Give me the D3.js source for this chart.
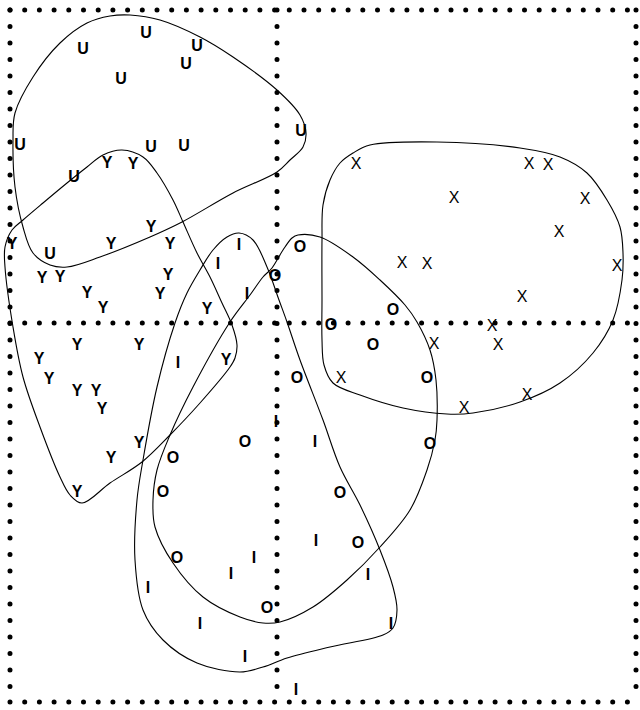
<!DOCTYPE html>
<html>
<head>
<meta charset="utf-8">
<script src="https://cdn.jsdelivr.net/npm/d3@7"></script>
<style>
  body { margin: 0; background: #fff; }
  .lbl { font-family: "Liberation Sans", Arial, sans-serif; font-size: 16px; fill: #000; }
  .hull { fill: none; stroke: #000; stroke-width: 1.1; }
  .dots { stroke: #000; stroke-linecap: round; stroke-width: 5; }
</style>
</head>
<body>
<script>
// point coordinates per group [x, y]
var ptsU = [[-13.1,29.1],[-19.4,27.5],[-8.0,27.8],[-9.1,26.0],[-15.6,24.5],[-25.7,17.9],
  [-12.6,17.7],[-9.3,17.8],[2.4,19.3],[-20.3,14.7],[-22.7,7.0]];
var ptsY = [[-17.0,16.1],[-14.4,16.0],[-12.6,9.7],[-26.5,8.0],[-16.6,8.0],[-10.7,8.0],
  [-23.5,4.6],[-21.7,4.7],[-10.9,4.9],[-19.0,3.1],[-11.7,3.0],[-17.4,1.6],[-7.0,1.5],
  [-20.0,-2.1],[-13.8,-2.1],[-23.8,-3.5],[-22.8,-5.5],[-20.0,-6.7],[-18.1,-6.7],
  [-17.5,-8.5],[-13.8,-11.9],[-16.6,-13.4],[-20.0,-16.8],[-5.1,-3.6]];
var ptsI = [[-3.8,7.9],[-5.9,6.0],[-3.0,3.0],[-9.9,-3.9],[-0.1,-9.8],[3.8,-11.8],
  [3.9,-21.7],[-2.3,-23.4],[-4.6,-25.0],[-12.9,-26.4],[-7.7,-30.0],[-3.2,-33.3],
  [1.9,-36.6],[9.1,-25.1],[11.4,-30.0]];
var ptsO = [[2.3,7.7],[-0.2,4.8],[11.6,1.4],[5.4,-0.1],[9.6,-2.1],[15.0,-5.4],
  [15.3,-12.0],[6.3,-16.9],[8.1,-21.9],[2.0,-5.4],[-3.2,-11.8],[-10.4,-13.4],
  [-11.4,-16.8],[-10.0,-23.4],[-1.0,-28.4]];
var ptsX = [[7.9,16.0],[25.2,16.0],[27.1,15.9],[17.7,12.6],[30.8,12.5],[28.2,9.2],
  [12.5,6.1],[15.0,6.0],[34.0,5.8],[24.5,2.7],[21.5,-0.2],[22.1,-2.1],[15.7,-2.0],
  [6.4,-5.4],[25.0,-7.1],[18.7,-8.4]];

// group outlines
var hullU = [[-14.7,30.8],[-11.7,30.3],[-7.7,28.6],[-4.4,26.6],[0,23.3],[2.3,20.8],
  [2.9,19.0],[2.6,17.6],[1.3,16.3],[0,15.1],[-4.4,13.0],[-9.5,10.1],[-12.7,8.6],
  [-17.7,6.6],[-21.0,5.6],[-22.7,5.8],[-24.4,7.0],[-25.4,9.6],[-26.2,13.6],
  [-26.4,18.3],[-26.2,21.0],[-24.4,24.6],[-21.7,28.0],[-19.0,30.0],[-16.7,30.7]];
var hullY = [[-15.5,17.3],[-13.4,16.6],[-12.0,15.0],[-10.4,12.3],[-9.4,10.1],[-8.0,7.0],
  [-6.7,4.6],[-5.5,2.0],[-4.5,-0.2],[-4.0,-2.2],[-4.2,-3.5],[-4.7,-4.4],[-7.7,-8.0],
  [-10.7,-11.2],[-13.5,-13.9],[-16.7,-16.0],[-19.5,-18.0],[-20.7,-17.2],[-21.7,-15.4],
  [-23.7,-10.4],[-25.4,-5.4],[-26.4,-0.4],[-27.2,5.6],[-27.2,7.6],[-26.5,9.3],
  [-25.4,10.3],[-23.4,12.0],[-21.0,14.0],[-19.0,15.6],[-17.4,16.8]];
var hullI = [[-3.8,9.0],[-2.4,8.3],[-1.0,5.6],[0.2,2.3],[1.0,0.1],[2.3,-3.7],[4.6,-9.7],
  [6.3,-14.4],[8.3,-18.2],[10.3,-22.7],[11.6,-26.4],[12.0,-28.7],[11.6,-30.5],
  [10.6,-31.2],[5.3,-32.4],[1.0,-33.5],[-1.4,-34.4],[-3.7,-34.9],[-8.0,-34.0],
  [-11.4,-31.7],[-13.4,-28.7],[-14.2,-23.7],[-14.0,-17.7],[-13.4,-13.7],[-12.0,-6.4],
  [-10.2,0.0],[-9.0,3.0],[-7.7,5.3],[-6.4,7.3],[-5.0,8.6]];
var hullO = [[2.1,8.8],[4.3,8.6],[7.6,6.6],[10.3,4.3],[12.8,1.8],[14.0,0.1],[15.3,-2.7],
  [15.9,-5.7],[16.0,-9.7],[15.8,-11.7],[15.0,-14.7],[13.3,-18.7],[10.3,-22.4],
  [7.0,-25.7],[3.6,-28.4],[0.3,-29.9],[-1.4,-30.0],[-3.7,-29.4],[-7.4,-27.4],
  [-10.4,-24.0],[-12.2,-20.4],[-12.4,-17.7],[-12.0,-14.7],[-10.7,-11.2],[-8.4,-6.4],
  [-4.7,0.1],[-2.7,2.8],[-1.4,4.6],[-0.5,5.5],[0.6,7.3],[1.5,8.5]];
var hullX = [[4.5,8.3],[4.5,2.3],[4.5,-1.7],[4.7,-4.2],[5.6,-6.0],[8.3,-7.2],[12.6,-8.5],
  [17.0,-9.1],[19.6,-9.0],[24.3,-7.9],[28.3,-6.0],[31.6,-3.0],[33.6,0.3],[34.5,4.3],
  [34.6,7.0],[34.3,9.6],[33.0,12.3],[31.0,15.0],[28.3,16.6],[24.3,17.5],[16.0,18.1],
  [9.3,17.8],[7.6,17.0],[6.3,16.0],[5.3,14.3],[4.6,11.8]];

var groups = [
  {label: "U", pts: ptsU, hull: hullU, bold: true},
  {label: "Y", pts: ptsY, hull: hullY, bold: true},
  {label: "I", pts: ptsI, hull: hullI, bold: true},
  {label: "O", pts: ptsO, hull: hullO, bold: true},
  {label: "X", pts: ptsX, hull: hullX, bold: false}
];

var width = 640, height = 710;

var x = d3.scaleLinear().domain([-26.7, 35.9]).range([10, 636]);
var y = d3.scaleLinear().domain([-37.9, 31.3]).range([702, 10]);

var svg = d3.select("body").append("svg")
    .attr("width", width)
    .attr("height", height);

// dotted frame and the two zero lines
var xd = x.domain(), yd = y.domain();
var dotLines = [
  {x1: xd[0], y1: yd[1], x2: xd[1], y2: yd[1], gap: 14.7},
  {x1: xd[0], y1: yd[0], x2: xd[1], y2: yd[0], gap: 14.7},
  {x1: xd[0], y1: 0, x2: xd[1], y2: 0, gap: 14.7},
  {x1: xd[0], y1: yd[1], x2: xd[0], y2: yd[0], gap: 16.5},
  {x1: xd[1], y1: yd[1], x2: xd[1], y2: yd[0], gap: 16.5},
  {x1: 0, y1: yd[1], x2: 0, y2: yd[0], gap: 16.5}
];
svg.append("g").selectAll("line")
    .data(dotLines)
  .enter().append("line")
    .attr("class", "dots")
    .attr("x1", function(d) { return x(d.x1); })
    .attr("y1", function(d) { return y(d.y1); })
    .attr("x2", function(d) { return x(d.x2); })
    .attr("y2", function(d) { return y(d.y2); })
    .attr("stroke-dasharray", function(d) { return "0," + d.gap; });

// outlines
var outline = d3.line()
    .x(function(d) { return x(d[0]); })
    .y(function(d) { return y(d[1]); })
    .curve(d3.curveCatmullRomClosed.alpha(0.5));

svg.append("g").selectAll("path")
    .data(groups)
  .enter().append("path")
    .attr("class", "hull")
    .attr("d", function(g) { return outline(g.hull); });

// letters
groups.forEach(function(g) {
  svg.append("g").selectAll("text")
      .data(g.pts)
    .enter().append("text")
      .attr("class", "lbl")
      .attr("x", function(d) { return x(d[0]); })
      .attr("y", function(d) { return y(d[1]); })
      .attr("dy", "0.36em")
      .attr("text-anchor", "middle")
      .attr("font-weight", g.bold ? "bold" : "normal")
      .text(g.label);
});
</script>
</body>
</html>
